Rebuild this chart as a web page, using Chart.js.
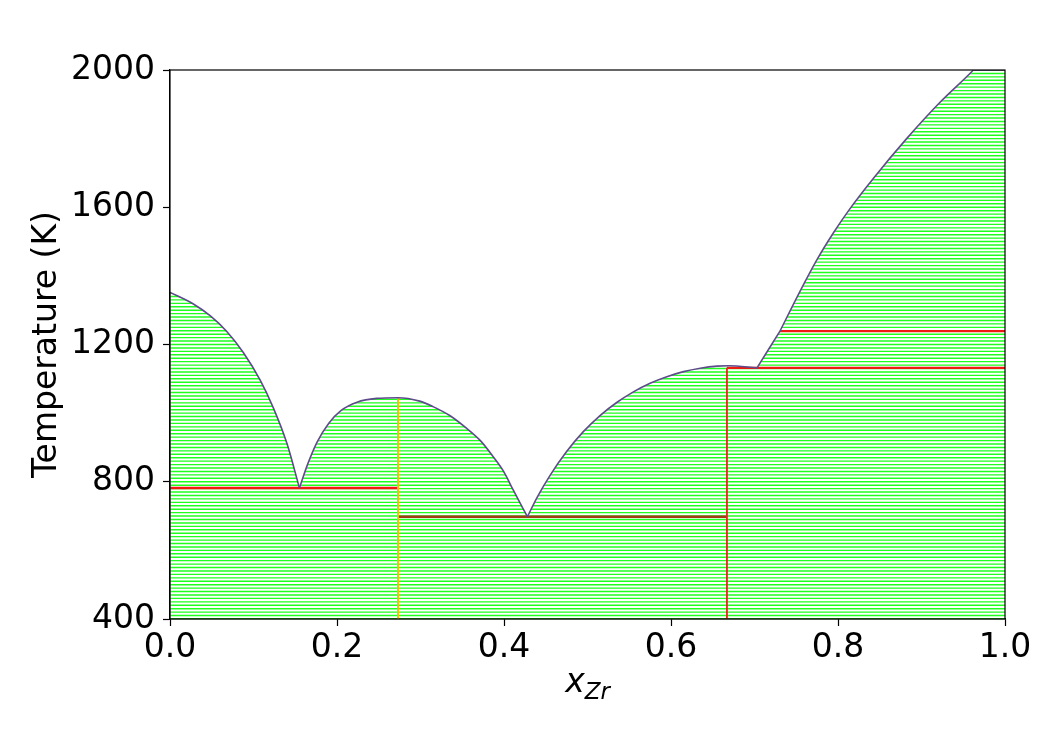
<!DOCTYPE html>
<html><head><meta charset="utf-8">
<script src="https://cdn.jsdelivr.net/npm/chart.js@4.4.1/dist/chart.umd.min.js"></script>
<style>
html,body{margin:0;padding:0;background:#fff;}
#wrap{position:relative;width:1059px;height:736px;overflow:hidden;}
#xlabel{position:absolute;left:0;width:1175px;text-align:center;top:664px;font-family:'DejaVu Sans',sans-serif;font-size:33px;line-height:33px;color:#000;}
#xlabel .sub{font-size:23px;position:relative;top:7px;}
</style></head><body>
<div id="wrap"><canvas id="c" width="1059" height="736"></canvas>
<div id="xlabel"><i>x</i><span class="sub"><i>Zr</i></span></div></div>
<script>
// Liquidus boundary (mole fraction Zr, temperature K)
const liquidusX = [0, 0.028, 0.048, 0.068, 0.088, 0.108, 0.124, 0.140, 0.155,
  0.165, 0.176, 0.190, 0.205, 0.224, 0.2475, 0.273,
  0.299, 0.315, 0.335, 0.355, 0.372, 0.387, 0.400, 0.411, 0.428,
  0.440, 0.455, 0.475, 0.495, 0.515, 0.535, 0.555, 0.575, 0.595, 0.615, 0.635, 0.655, 0.669, 0.703,
  0.7305, 0.7545, 0.7745, 0.7944, 0.8144, 0.8423, 0.8822, 0.9222, 0.9601, 0.962, 1.0];
const liquidusT = [1352, 1318, 1284, 1238, 1176, 1096, 1014, 912, 782,
  852, 915, 970, 1008, 1032, 1043, 1045,
  1035, 1019, 993, 956, 919, 873, 828, 776, 698,
  756, 818, 888, 946, 993, 1031, 1062, 1087, 1106, 1121, 1131, 1137, 1138, 1132,
  1239, 1355, 1446, 1525, 1596, 1684, 1800, 1906, 1995, 2000, 2000];
// indices where the liquidus has a kink (eutectic / peritectic points)
const liquidusKinks = [8, 24, 38, 39, 48];

// Invariant (eutectic / peritectic) reactions
const invariantT    = [782, 698, 1132, 1239];
const invariantFrom = [0, 0.273, 0.667, 0.7305];
const invariantTo   = [0.273, 0.667, 1.0, 1.0];

// Line compounds
const compoundX    = [0.273, 0.667];
const compoundTopT = [1045, 1132];

// Tie-line temperatures (K)
const tieTemps = [
  400,410,420,430,440,450,460,470,480,490,
  500,510,520,530,540,550,560,570,580,590,
  600,610,620,630,640,650,660,670,680,690,
  700,710,720,730,740,750,760,770,780,790,
  800,810,820,830,840,850,860,870,880,890,
  900,910,920,930,940,950,960,970,980,990,
  1000,1010,1020,1030,1040,1050,1060,1070,1080,1090,
  1100,1110,1120,1130,1140,1150,1160,1170,1180,1190,
  1200,1210,1220,1230,1240,1250,1260,1270,1280,1290,
  1300,1310,1320,1330,1340,1350,1360,1370,1380,1390,
  1400,1410,1420,1430,1440,1450,1460,1470,1480,1490,
  1500,1510,1520,1530,1540,1550,1560,1570,1580,1590,
  1600,1610,1620,1630,1640,1650,1660,1670,1680,1690,
  1700,1710,1720,1730,1740,1750,1760,1770,1780,1790,
  1800,1810,1820,1830,1840,1850,1860,1870,1880,1890,
  1900,1910,1920,1930,1940,1950,1960,1970,1980,1990,
  2000];

const xTickStep = 0.2;
const yTickStep = 400;
const xMin = 0, xMax = 1, yMin = 400, yMax = 2000;

const FONT = "'DejaVu Sans', sans-serif";
Chart.defaults.font.family = FONT;
Chart.defaults.color = '#000';

const liquidusData = liquidusX.map((x, i) => ({x: x, y: liquidusT[i]}));
// split liquidus into smooth branches between kinks
const branches = [];
let start = 0;
liquidusKinks.concat([liquidusData.length - 1]).forEach(k => {
  if (k > start) branches.push(liquidusData.slice(start, k + 1));
  start = k;
});

const tieData = [];
tieTemps.forEach(T => { tieData.push({x: xMin, y: T}, {x: xMax, y: T}, {x: xMax, y: null}); });

const invariantColors = ['#f21810', '#a33a16', '#ee1a12', '#ee1a12'];
const compoundColors = ['#f3c200', '#e82418'];

const datasets = [];
branches.forEach((b, i) => datasets.push({label: 'liquidus' + i, data: b, borderColor: '#5e4b8b', borderWidth: 1.6,
  pointRadius: 0, fill: false, cubicInterpolationMode: 'monotone', order: 0}));
compoundX.forEach((x, i) => datasets.push({label: 'compound' + i,
  data: [{x: x, y: yMin}, {x: x, y: compoundTopT[i]}], borderColor: compoundColors[i],
  borderWidth: i === 0 ? 2 : 1.8, pointRadius: 0, fill: false, order: 1}));
invariantT.forEach((T, i) => datasets.push({label: 'invariant' + i,
  data: [{x: invariantFrom[i], y: T}, {x: invariantTo[i], y: T}], borderColor: invariantColors[i],
  borderWidth: 2.4, pointRadius: 0, fill: false, order: 2}));
// liquid region (above the liquidus) is left blank: white fill per smooth branch
branches.forEach((b, i) => datasets.push({label: 'liquid' + i, data: b, borderWidth: 0, borderColor: 'rgba(0,0,0,0)',
  backgroundColor: '#ffffff', pointRadius: 0, fill: 'end', cubicInterpolationMode: 'monotone', order: 3}));
// hide anti-aliasing seams between neighbouring liquid fills
liquidusKinks.forEach((k, i) => {
  if (liquidusT[k] < yMax) datasets.push({label: 'seam' + i,
    data: [{x: liquidusX[k], y: liquidusT[k]}, {x: liquidusX[k], y: yMax}], borderColor: '#ffffff',
    borderWidth: 2, pointRadius: 0, fill: false, order: 2.9});
});
datasets.push({label: 'ties', data: tieData, borderColor: 'rgb(30,255,30)', borderWidth: 1.4,
  pointRadius: 0, fill: false, spanGaps: false, order: 4});

const frame = {id: 'frame', afterDatasetsDraw(chart) {
  const {ctx, chartArea: a} = chart;
  ctx.save(); ctx.strokeStyle = '#000'; ctx.lineWidth = 1.2;
  ctx.strokeRect(a.left, a.top, a.right - a.left, a.bottom - a.top);
  ctx.restore();
}};

new Chart(document.getElementById('c'), {
  type: 'line',
  data: {datasets: datasets},
  options: {
    responsive: false, animation: false, devicePixelRatio: 1,
    layout: {padding: {left: 0, top: 70, right: 54, bottom: 0}},
    plugins: {legend: {display: false}, tooltip: {enabled: false}},
    scales: {
      x: {type: 'linear', min: xMin, max: xMax,
        ticks: {stepSize: xTickStep, callback: v => Number(v).toFixed(1), font: {size: 33}, color: '#000',
          padding: 3, maxRotation: 0, autoSkip: false},
        grid: {drawOnChartArea: false, drawTicks: true, tickLength: 7, tickColor: '#000', tickWidth: 1.2},
        border: {display: true, color: '#000', width: 1.2},
        afterFit: s => { s.height = 117; }},
      y: {type: 'linear', min: yMin, max: yMax,
        ticks: {stepSize: yTickStep, callback: v => String(v), font: {size: 33}, color: '#000', padding: 8, autoSkip: false},
        grid: {drawOnChartArea: false, drawTicks: true, tickLength: 7, tickColor: '#000', tickWidth: 1.2},
        border: {display: true, color: '#000', width: 1.2},
        title: {display: true, text: 'Temperature (K)', font: {size: 33}, color: '#000', padding: {top: 28, bottom: 0}},
        afterFit: s => { s.width = 170; }}
    }
  },
  plugins: [frame]
});
</script>
</body></html>
